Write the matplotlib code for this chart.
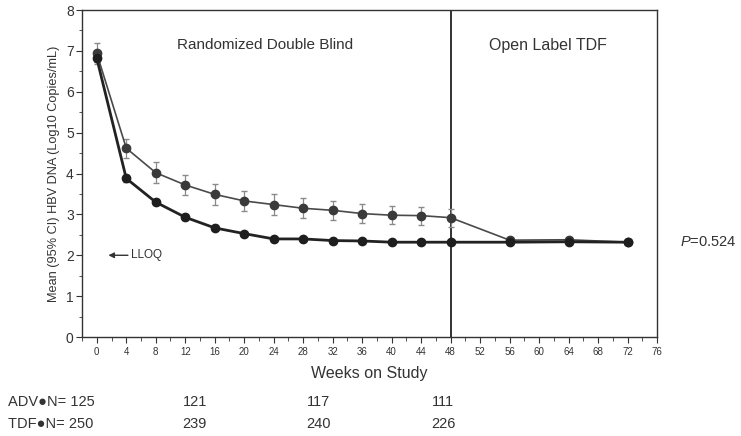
import matplotlib
matplotlib.use("Agg")
import matplotlib.pyplot as plt
from matplotlib.ticker import MultipleLocator

plt.rcParams['font.family'] = ['Liberation Sans', 'DejaVu Sans']
plt.rcParams['mathtext.fontset'] = 'custom'
plt.rcParams['mathtext.it'] = 'Liberation Sans:italic'
plt.rcParams['mathtext.rm'] = 'Liberation Sans'

# Study weeks and mean log10 HBV DNA for each arm
weeks = [0, 4, 8, 12, 16, 20, 24, 28, 32, 36, 40, 44, 48, 56, 64, 72]
adv_mean = [6.94, 4.62, 4.02, 3.72, 3.49, 3.33, 3.24, 3.15, 3.10, 3.02, 2.98, 2.97, 2.92, 2.37, 2.38, 2.32]
adv_err = [0.25, 0.23, 0.25, 0.25, 0.25, 0.25, 0.25, 0.25, 0.24, 0.23, 0.22, 0.22, 0.22, 0.06, 0.06, 0.05]
tdf_mean = [6.82, 3.88, 3.30, 2.93, 2.67, 2.53, 2.40, 2.40, 2.36, 2.35, 2.32, 2.32, 2.32, 2.32, 2.33, 2.32]
tdf_err = [0.10, 0.08, 0.08, 0.07, 0.06, 0.05, 0.04, 0.04, 0.04, 0.04, 0.04, 0.04, 0.04, 0.04, 0.04, 0.04]

# Patient counts shown under the axis
adv_n = ["125", "121", "117", "111"]
tdf_n = ["250", "239", "240", "226"]
n_xpos = [0.263, 0.43, 0.598]

fig = plt.figure(figsize=(7.41, 4.36), dpi=100)
ax = fig.add_axes([0.1107, 0.227, 0.776, 0.75])

ax.errorbar(weeks, adv_mean, yerr=adv_err, color='#4a4a4a', ecolor='#8a8a8a',
            lw=1.2, elinewidth=0.9, capsize=2.5, marker='o', ms=6,
            mfc='#3a3a3a', mec='#3a3a3a', zorder=3)
ax.errorbar(weeks, tdf_mean, yerr=tdf_err, color='#222222', ecolor='#555555',
            lw=2.0, elinewidth=0.9, capsize=2, marker='o', ms=6,
            mfc='#1e1e1e', mec='#1e1e1e', zorder=4)

# Boundary between the blinded and open-label phases
ax.axvline(48, color='#222222', lw=1.3, zorder=2)

ax.text(22.8, 7.14, "Randomized Double Blind", ha='center', va='center', fontsize=11, color='#333333')
ax.text(61.2, 7.14, "Open Label TDF", ha='center', va='center', fontsize=11.5, color='#333333')

ax.annotate("", xy=(1.2, 2.0), xytext=(4.6, 2.0),
            arrowprops=dict(arrowstyle='-|>', color='#333333', lw=1.0, mutation_scale=8))
ax.text(4.6, 2.0, "LLOQ", ha='left', va='center', fontsize=8.5, color='#333333')

ax.set_xlim(-2, 76)
ax.set_ylim(0, 8)
ax.xaxis.set_major_locator(MultipleLocator(4))
ax.xaxis.set_minor_locator(MultipleLocator(2))
ax.yaxis.set_major_locator(MultipleLocator(1))
ax.yaxis.set_minor_locator(MultipleLocator(0.5))
ax.tick_params(axis='x', which='major', labelsize=7, length=4, colors='#333333', pad=3)
ax.tick_params(axis='x', which='minor', length=3, color='#333333')
ax.tick_params(axis='y', which='major', labelsize=10, length=4, colors='#333333', pad=2)
ax.tick_params(axis='y', which='minor', length=2.5, color='#333333')
for s in ax.spines.values():
    s.set_color('#333333')
    s.set_linewidth(1.0)

ax.set_ylabel("Mean (95% CI) HBV DNA (Log10 Copies/mL)", fontsize=9.2, color='#333333', labelpad=4)
ax.set_xlabel("Weeks on Study", fontsize=11.5, color='#333333', labelpad=7)

fig.text(0.918, 0.445, "$P$=0.524", fontsize=10.5, color='#333333', va='center')

fig.text(0.011, 0.078, "ADV\u25CFN= " + adv_n[0], fontsize=10.5, color='#333333', va='center')
fig.text(0.011, 0.028, "TDF\u25CFN= " + tdf_n[0], fontsize=10.5, color='#333333', va='center')
for i in range(len(n_xpos)):
    fig.text(n_xpos[i], 0.078, adv_n[i + 1], fontsize=10.5, color='#333333', va='center', ha='center')
    fig.text(n_xpos[i], 0.028, tdf_n[i + 1], fontsize=10.5, color='#333333', va='center', ha='center')

fig.savefig("out.png", dpi=100, facecolor='white')
